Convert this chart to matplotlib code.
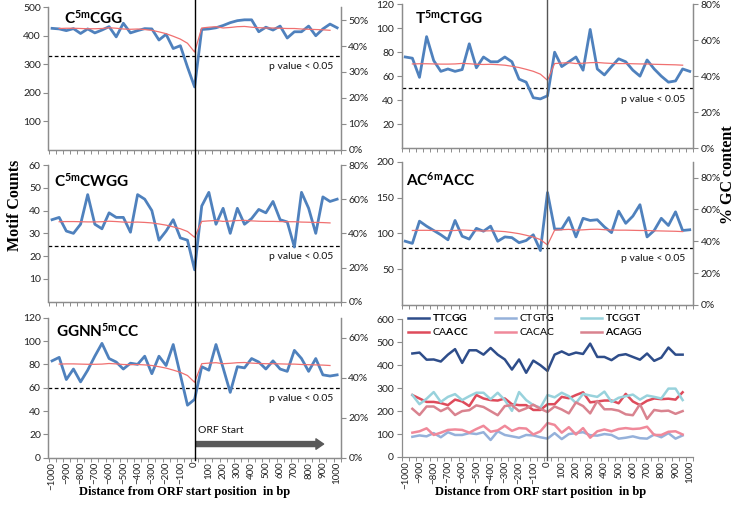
import numpy as np
import matplotlib
matplotlib.use('Agg')
import matplotlib.pyplot as plt
from matplotlib.lines import Line2D

plt.rcParams['font.family'] = ['Lato', 'DejaVu Sans']
plt.rcParams['mathtext.fontset'] = 'custom'
plt.rcParams['mathtext.rm'] = 'Lato'
plt.rcParams['mathtext.bf'] = 'Lato:bold'
plt.rcParams['mathtext.it'] = 'Lato:italic'

# positions (bp from ORF start)
pos = np.arange(-1000, 1001, 50)
pos_in = np.arange(-950, 951, 50)

# % GC content (same curve in every panel)
gc = [46.8, 46.9, 46.9, 46.8, 46.7, 46.7, 46.8, 47.1, 46.9, 46.6,
      46.5, 46.6, 46.4, 46.1, 45.5, 44.8, 43.8, 42.7, 41.1, 37.7,
      47.0, 47.3, 47.5, 47.0, 47.2, 47.5, 47.6, 47.3, 47.1, 47.0,
      47.0, 46.9, 46.8, 46.8, 46.6, 46.5, 46.4, 46.3, 46.1]

# motif counts
c5mcgg = [426, 424, 418, 425, 408, 424, 410, 420, 432, 396, 444, 410, 418, 425,
          424, 385, 405, 355, 365, 290, 220, 422, 424, 428, 436, 446, 453, 456,
          456, 414, 430, 420, 434, 392, 414, 414, 434, 400, 424, 441, 428]
t5mctgg = [76, 75, 59, 93, 73, 64, 66, 64, 65.5, 87, 67, 76, 72, 72, 76, 72,
           57.5, 55, 42, 41, 43.6, 80, 68, 72, 76, 65, 99, 66, 61, 68, 74.5, 72,
           65, 60, 73.5, 66, 60, 55, 56, 66, 64]
c5mcwgg = [36, 37, 31, 30, 34, 47, 34, 32, 39, 37, 37, 30.5, 47, 45, 40, 27, 31,
           36, 28, 27, 14, 42, 48, 34, 41, 30, 41, 34, 36.5, 40.5, 39, 44, 36,
           35, 24, 48, 41, 30, 46, 44, 45]
ac6macc = [89, 86, 117, 110, 104, 98, 91, 118, 96, 92, 107, 103, 110, 89, 95,
           94, 87, 90, 98, 76, 157, 106, 106, 122, 95, 121, 118, 119, 109, 101,
           131, 114, 124, 140, 95, 104, 121, 111, 130, 104, 105]
ggnn5mcc = [83, 86, 67, 76, 65, 75, 87, 98, 85, 82, 76, 81, 80, 87, 72, 87, 79,
            97, 71, 45, 50, 78, 75, 97, 77, 56, 78, 77, 85, 82, 76, 83, 76, 74,
            92, 85, 74, 85, 71, 70, 71]

# control motifs (-950 .. 950)
ttcgg = [451, 455, 424, 425, 416, 446, 470, 410, 465, 465, 446, 475, 446, 425,
         381, 425, 367, 420, 400, 375, 446, 460, 445, 455, 449, 494, 436, 436,
         422, 443, 448, 436, 424, 451, 419, 433, 477, 446, 446]
ctgtg = [88, 94, 90, 104, 86, 108, 96, 96, 104, 100, 108, 74, 112, 96, 90, 84,
         96, 94, 86, 80, 104, 78, 100, 104, 108, 95, 93, 100, 96, 80, 84, 90,
         82, 80, 98, 86, 104, 80, 94]
tcggt = [270, 230, 254, 283, 240, 262, 274, 248, 265, 280, 280, 252, 280, 248,
         201, 283, 248, 226, 215, 270, 260, 280, 265, 235, 275, 268, 262, 285,
         240, 258, 265, 272, 250, 268, 262, 255, 298, 298, 248]
caacc = [270, 255, 240, 240, 235, 226, 250, 242, 222, 270, 255, 248, 246, 255,
         230, 226, 226, 205, 205, 230, 230, 262, 256, 270, 282, 238, 242, 246,
         246, 234, 275, 242, 226, 245, 255, 252, 254, 250, 282]
cacac = [106, 112, 125, 96, 106, 118, 120, 118, 106, 122, 136, 110, 116, 136,
         114, 126, 124, 98, 112, 148, 140, 106, 130, 98, 126, 84, 112, 120, 112,
         122, 126, 122, 124, 132, 96, 96, 110, 112, 98]
acagg = [210, 183, 220, 220, 200, 215, 183, 200, 204, 225, 218, 200, 182, 222,
         226, 200, 212, 228, 210, 196, 220, 207, 190, 238, 222, 190, 244, 208,
         208, 202, 186, 182, 230, 166, 205, 200, 202, 188, 200]

W, H = 741, 505
fig = plt.figure(figsize=(W / 100, H / 100), dpi=100)

axis_col = '#8c8c8c'
blue = '#4F81BD'
red = '#F07070'
tick_fs = 7.5


def rect(x0, x1, y0, y1):
    # pixel box -> figure fraction
    return [x0 / W, 1 - y1 / H, (x1 - x0) / W, (y1 - y0) / H]


def style_axis(ax, labels_x):
    ax.set_xlim(-1025, 1025)
    ax.spines['top'].set_visible(False)
    for s in ['left', 'right', 'bottom']:
        ax.spines[s].set_color(axis_col)
        ax.spines[s].set_linewidth(0.9)
    ax.set_xticks(np.arange(-1000, 1001, 100))
    ax.set_xticks(np.arange(-1025, 1026, 50), minor=True)
    ax.tick_params(axis='x', which='major', length=0, labelsize=7, pad=3,
                   labelrotation=90, labelcolor='#222222')
    ax.tick_params(axis='x', which='minor', length=3, color=axis_col, width=0.7)
    if not labels_x:
        ax.set_xticklabels([])
    ax.tick_params(axis='y', length=3.5, color=axis_col, width=0.8,
                   labelsize=tick_fs, labelcolor='#222222', pad=2)


def motif_panel(box, counts, ylim, yticks, pct_top, pct_ticks, cutoff, title,
                title_xy, labels_x=False):
    ax = fig.add_axes(rect(*box))
    style_axis(ax, labels_x)
    ax.plot(pos, counts, color=blue, lw=2.0, zorder=3)
    ax.axhline(cutoff, color='black', lw=0.9, ls=(0, (3, 2)), zorder=2)
    ax.set_ylim(*ylim)
    ax.set_yticks(yticks)
    ax.annotate('p value < 0.05', xy=(0.974, cutoff),
                xycoords=('axes fraction', 'data'), xytext=(0, -8),
                textcoords='offset points', ha='right', va='center',
                fontsize=tick_fs, color='#111111')
    ax.text(title_xy[0], title_xy[1], title, transform=ax.transAxes,
            fontsize=11, ha='left', va='baseline')
    ax2 = ax.twinx()
    ax2.plot(pos_in, gc, color=red, lw=0.9, zorder=4)
    ax2.set_ylim(0, pct_top)
    ax2.set_yticks(pct_ticks)
    ax2.set_yticklabels(['%d%%' % t for t in pct_ticks])
    ax2.spines['top'].set_visible(False)
    for s in ['left', 'right', 'bottom']:
        ax2.spines[s].set_color(axis_col)
        ax2.spines[s].set_linewidth(0.9)
    ax2.tick_params(axis='y', length=3.5, color=axis_col, width=0.8,
                    labelsize=tick_fs, labelcolor='#222222', pad=2)
    return ax


LX = (48.5, 340.7)
RX = (401.7, 693.3)

axA = motif_panel((LX[0], LX[1], 7.3, 149.5), c5mcgg, (0, 500),
                  [100, 200, 300, 400, 500], 55, [0, 10, 20, 30, 40, 50], 330,
                  r'$\mathbf{C^{5m}CGG}$', (0.053, 0.883))
axC = motif_panel((LX[0], LX[1], 165, 301.7), c5mcwgg, (0, 60),
                  [10, 20, 30, 40, 50, 60], 80, [0, 20, 40, 60, 80], 24.5,
                  r'$\mathbf{C^{5m}CWGG}$', (0.019, 0.843))
axE = motif_panel((LX[0], LX[1], 317.7, 457.7), ggnn5mcc, (0, 120),
                  [0, 20, 40, 60, 80, 100, 120], 70, [0, 20, 40, 60], 60,
                  r'$\mathbf{GGNN^{5m}CC}$', (0.026, 0.864), labels_x=True)
axB = motif_panel((RX[0], RX[1], 4.3, 148), t5mctgg, (0, 120),
                  [20, 40, 60, 80, 100, 120], 80, [0, 20, 40, 60, 80], 50,
                  r'$\mathbf{T^{5m}CTGG}$', (0.044, 0.868))
axD = motif_panel((RX[0], RX[1], 161.7, 305), ac6macc, (0, 200),
                  [50, 100, 150, 200], 90, [0, 20, 40, 60, 80], 80,
                  r'$\mathbf{AC^{6m}ACC}$', (0.015, 0.83))

# ORF start arrow
axE.annotate('', xy=(905, 11.7), xytext=(8, 11.7),
             arrowprops=dict(width=3.6, headwidth=7.5, headlength=5.5,
                             color='#595959', shrink=0))
axE.text(25, 23, 'ORF Start', fontsize=tick_fs, ha='left', va='center',
         color='#111111')

# control motif panel
axF = fig.add_axes(rect(RX[0], RX[1], 319.3, 457))
style_axis(axF, True)
axF.spines['right'].set_visible(False)
axF.set_ylim(0, 600)
axF.set_yticks(np.arange(0, 601, 100))
ctrl = [(ttcgg, '#2E4D8A', r'$\mathbf{TT}\mathrm{C}\mathbf{GG}$'),
        (caacc, '#DE4B5B', r'$\mathrm{CA}\mathbf{ACC}$'),
        (ctgtg, '#95B1DA', r'$\mathrm{CTGT}\mathbf{G}$'),
        (cacac, '#F0899A', r'$\mathrm{CACAC}$'),
        (tcggt, '#98D2DC', r'$\mathbf{TC}\mathrm{GG}\mathbf{T}$'),
        (acagg, '#D9838F', r'$\mathbf{ACA}\mathrm{GG}$')]
for vals, col, lab in ctrl:
    axF.plot(pos_in, vals, color=col, lw=1.8, label=lab)
axF.legend(loc='upper left', bbox_to_anchor=(-0.01, 1.12), ncol=3,
           frameon=False, fontsize=7.5, handlelength=2.0, handletextpad=0.3,
           columnspacing=2.5, labelspacing=0.3)

# ORF start vertical lines across each column
for axs, col in [((axA, axE), 'black'), ((axB, axF), '#555555')]:
    p = axs[0].get_position()
    xf = p.x0 + (0 - (-1025)) / 2050 * p.width
    fig.add_artist(Line2D([xf, xf], [1 - 460 / H, 1.0], color=col, lw=1.0,
                          transform=fig.transFigure, zorder=10))

fig.text(15 / W, 1 - 205 / H, 'Motif Counts', rotation=90, ha='center',
         va='center', family='Liberation Serif', weight='bold', fontsize=11.5)
fig.text(728 / W, 1 - 175 / H, '% GC content', rotation=90, ha='center',
         va='center', family='Liberation Serif', weight='bold', fontsize=11.5)
for xc in (185, 541):
    fig.text(xc / W, 1 - 492 / H, 'Distance from ORF start position  in bp',
             ha='center', va='center', family='Liberation Serif',
             weight='bold', fontsize=9)

fig.savefig('out.png', dpi=100)
